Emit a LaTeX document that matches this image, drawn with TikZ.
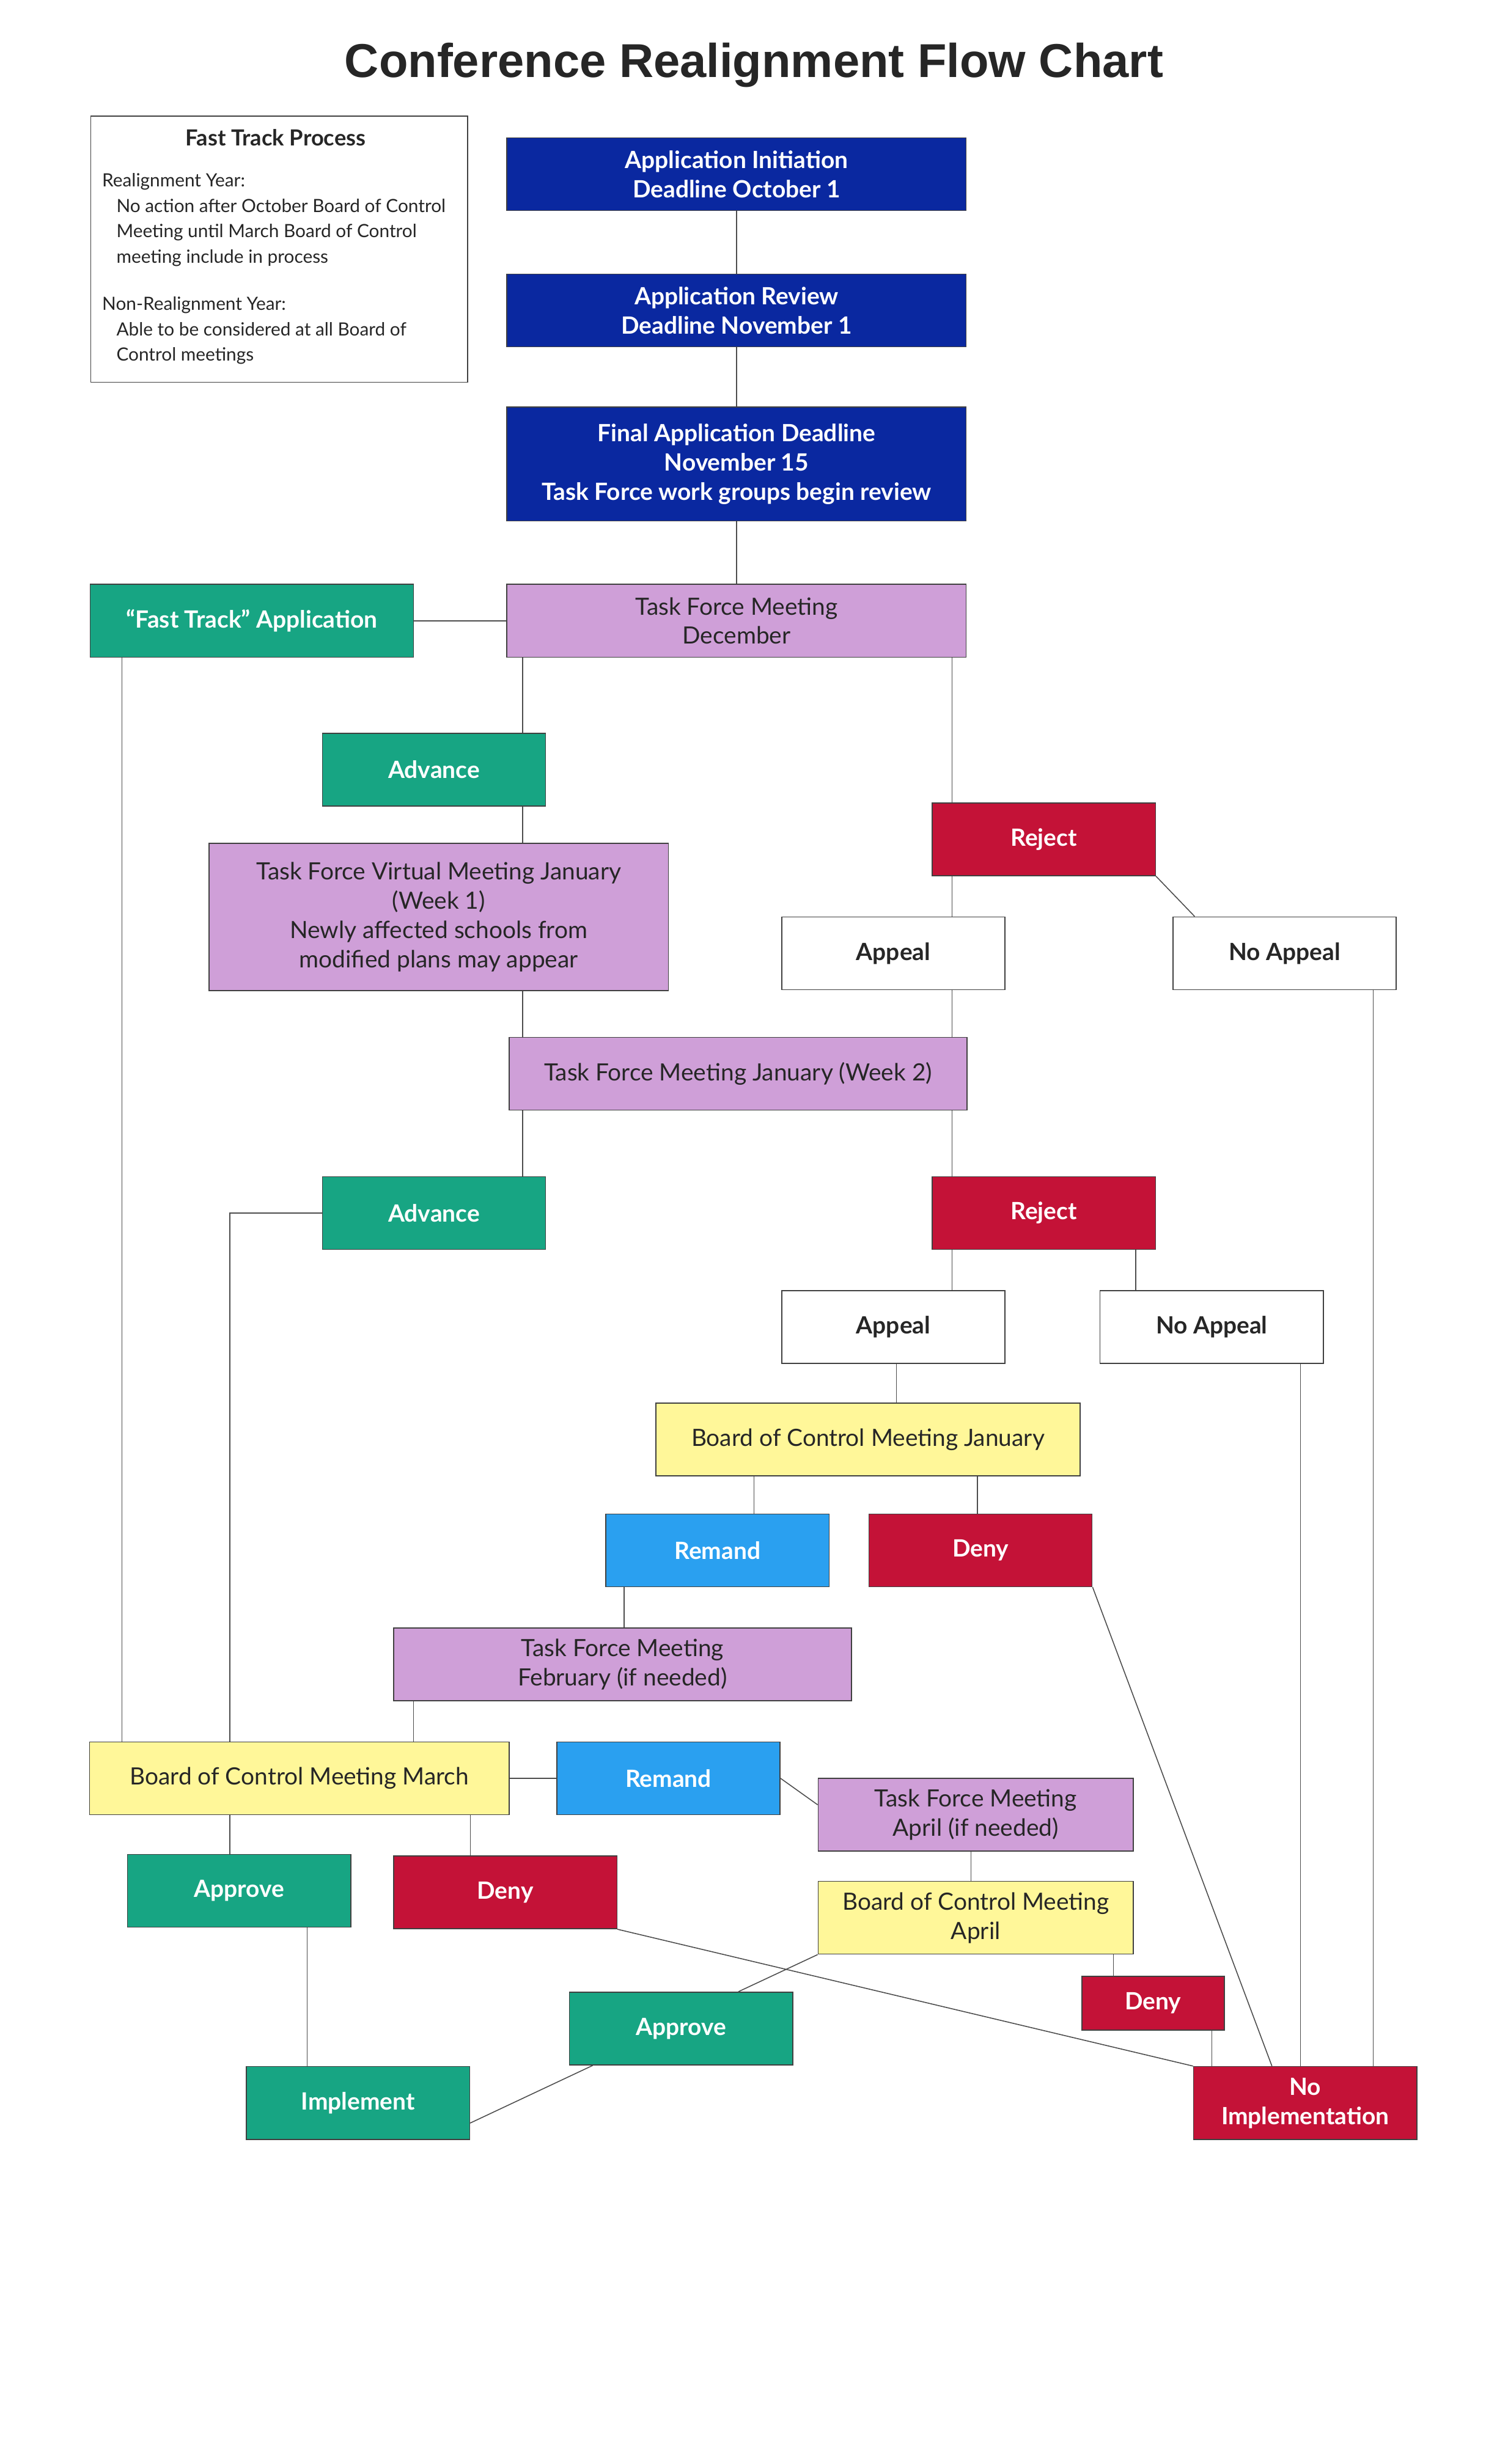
\documentclass[tikz,border=0pt]{standalone}
\usepackage{fontspec}
\setmainfont{Lato}
\newfontfamily\titlefont{Liberation Sans}
\usetikzlibrary{calc}
\definecolor{navy}{HTML}{0A28A0}
\definecolor{purp}{HTML}{CF9FD8}
\definecolor{grn}{HTML}{17A583}
\definecolor{rd}{HTML}{C41237}
\definecolor{yel}{HTML}{FFF799}
\definecolor{blu}{HTML}{2AA0F0}
\begin{document}
\begin{tikzpicture}[x=1pt,y=-1pt,
 box/.style={draw=black!75,line width=0.6pt,align=center,inner sep=0pt,minimum width=#1,minimum height=46,font=\fontsize{15}{18.5}\selectfont},
 box/.default=141,
 nv/.style={box=290,fill=navy,text=white,font=\fontsize{15}{18.5}\selectfont\bfseries},
 pu/.style={box=#1,fill=purp,text=black!85},
 gr/.style={box=141,fill=grn,text=white,font=\fontsize{15}{18.5}\selectfont\bfseries},
 re/.style={box=141,fill=rd,text=white,font=\fontsize{15}{18.5}\selectfont\bfseries},
 wh/.style={box=141,fill=white,text=black!85,font=\fontsize{15}{18.5}\selectfont\bfseries},
 ye/.style={box=#1,fill=yel,text=black!85},
 bl/.style={box=141,fill=blu,text=white,font=\fontsize{15}{18.5}\selectfont\bfseries},
 ln/.style={draw=black!70,line width=0.6pt}]
\useasboundingbox[fill=white] (0,0) rectangle (945,1556);
\node[font=\titlefont\fontsize{30}{34}\selectfont\bfseries,text=black!85] (title) at (476,41) {Conference Realignment Flow Chart};
\node[draw=black!75,line width=0.6pt,minimum width=238,minimum height=168,anchor=north west] (ft) at (57,73) {};
\node[anchor=north,font=\fontsize{14}{17}\selectfont\bfseries,text=black!85] (fth) at (174,78) {Fast Track Process};
\node[anchor=north west,align=left,font=\fontsize{11.5}{16}\selectfont,text=black!85] (ftt) at (61,106) {Realignment Year:\\
\hspace*{9pt}No action after October Board of Control\\
\hspace*{9pt}Meeting until March Board of Control\\
\hspace*{9pt}meeting include in process\\[14pt]
Non-Realignment Year:\\
\hspace*{9pt}Able to be considered at all Board of\\
\hspace*{9pt}Control meetings};
\node[nv] (a1) at (465,110) {Application Initiation\\Deadline October 1};
\node[nv] (a2) at (465,196) {Application Review\\Deadline November 1};
\node[nv,minimum height=72] (a3) at (465,293) {Final Application Deadline\\November 15\\Task Force work groups begin review};
\node[pu=290] (tfd) at (465,392) {Task Force Meeting\\December};
\node[gr,minimum width=204] (fta) at (159,392) {“Fast Track” Application};
\node[gr] (adv1) at (274,486) {Advance};
\node[re] (rej1) at (659,530) {Reject};
\node[pu=290,minimum height=93] (tfv) at (277,579) {Task Force Virtual Meeting January\\(Week 1)\\Newly affected schools from\\modified plans may appear};
\node[wh] (ap1) at (564,602) {Appeal};
\node[wh] (na1) at (811,602) {No Appeal};
\node[pu=289] (tfj) at (466,678) {Task Force Meeting January (Week 2)};
\node[gr] (adv2) at (274,766) {Advance};
\node[re] (rej2) at (659,766) {Reject};
\node[wh] (ap2) at (564,838) {Appeal};
\node[wh] (na2) at (765,838) {No Appeal};
\node[ye=268] (bcj) at (548,909) {Board of Control Meeting January};
\node[bl] (rm1) at (453,979) {Remand};
\node[re] (dn1) at (619,979) {Deny};
\node[pu=289] (tff) at (393,1051) {Task Force Meeting\\February (if needed)};
\node[ye=265] (bcm) at (189,1123) {Board of Control Meeting March};
\node[bl] (rm2) at (422,1123) {Remand};
\node[pu=199] (tfa) at (616,1146) {Task Force Meeting\\April (if needed)};
\node[gr] (apr1) at (151,1194) {Approve};
\node[re] (dn2) at (319,1195) {Deny};
\node[ye=199] (bca) at (616,1211) {Board of Control Meeting\\April};
\node[re,minimum width=90,minimum height=34] (dn3) at (728,1265) {Deny};
\node[gr] (apr2) at (430,1281) {Approve};
\node[gr] (imp) at (226,1328) {Implement};
\node[re] (ni) at (824,1328) {No\\Implementation};
\foreach \v in {77,145,194,261,297,330,394,476,566,601,613,617,703,717,765,803,821,867}{\coordinate (x\v) at (\v,0);}
\draw[ln] (a1)--(a2); \draw[ln] (a2)--(a3); \draw[ln] (a3)--(tfd);
\draw[ln] (fta)--(tfd);
\draw[ln] (tfd.south -| x330)--(adv1.north -| x330);
\draw[ln] (tfd.south -| x601)--(rej1.north -| x601);
\draw[ln] (adv1.south -| x330)--(tfv.north -| x330);
\draw[ln] (rej1.south -| x601)--(ap1.north -| x601);
\draw[ln] (rej1.south east)--($(na1.north west)+(14,0)$);
\draw[ln] (ap1.south -| x601)--(tfj.north -| x601);
\draw[ln] (tfv.south -| x330)--(tfj.north -| x330);
\draw[ln] (tfj.south -| x330)--(adv2.north -| x330);
\draw[ln] (tfj.south -| x601)--(rej2.north -| x601);
\draw[ln] (rej2.south -| x601)--(ap2.north -| x601);
\draw[ln] (rej2.south -| x717)--(na2.north -| x717);
\draw[ln] (ap2.south -| x566)--(bcj.north -| x566);
\draw[ln] (bcj.south -| x476)--(rm1.north -| x476);
\draw[ln] (bcj.south -| x617)--(dn1.north -| x617);
\draw[ln] (rm1.south -| x394)--(tff.north -| x394);
\draw[ln] (tff.south -| x261)--(bcm.north -| x261);
\draw[ln] (adv2.west)--(adv2.west -| x145)--(bcm.north -| x145);
\draw[ln] (fta.south -| x77)--(bcm.north -| x77);
\draw[ln] (bcm)--(rm2);
\draw[ln] (rm2.east)--($(tfa.north west)+(0,17)$);
\draw[ln] (tfa.south -| x613)--(bca.north -| x613);
\draw[ln] (bca.south west)--($(apr2.north west)+(107,0)$);
\draw[ln] (bca.south -| x703)--(dn3.north -| x703);
\draw[ln] (dn3.south -| x765)--(ni.north -| x765);
\draw[ln] (bcm.south -| x145)--(apr1.north -| x145);
\draw[ln] (bcm.south -| x297)--(dn2.north -| x297);
\draw[ln] (apr1.south -| x194)--(imp.north -| x194);
\draw[ln] ($(apr2.south west)+(15,0)$)--($(imp.north east)+(0,36)$);
\draw[ln] (dn2.south east)--(ni.north west);
\draw[ln] (dn1.south east)--(ni.north -| x803);
\draw[ln] (na2.south -| x821)--(ni.north -| x821);
\draw[ln] (na1.south -| x867)--(ni.north -| x867);
\end{tikzpicture}
\end{document}
